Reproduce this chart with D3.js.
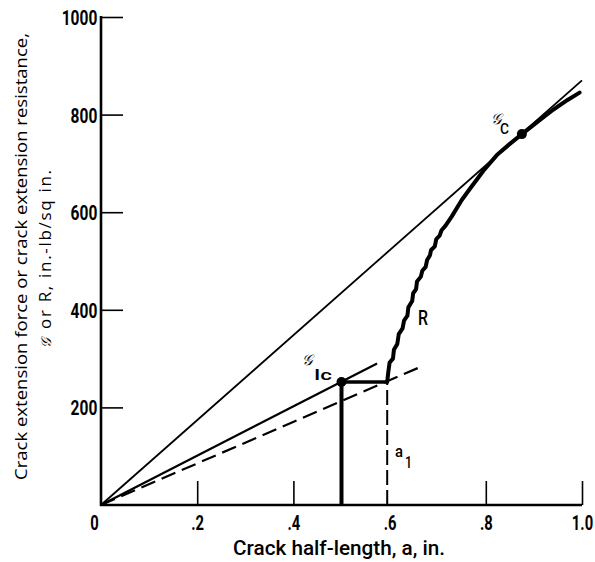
<!DOCTYPE html>
<html>
<head>
<meta charset="utf-8">
<script src="https://cdn.jsdelivr.net/npm/d3@7"></script>
<style>
  body { margin: 0; background: #fff; }
  svg { display: block; }
  .narrow { font-family: Roboto, "Liberation Sans", sans-serif; }
</style>
</head>
<body>
<svg id="chart" width="595" height="562"></svg>
<script>
// ---- data ----
const xTicks = [0, 0.2, 0.4, 0.6, 0.8, 1.0];
const xTickLabels = ["0", ".2", ".4", ".6", ".8", "1.0"];
const yTicks = [200, 400, 600, 800, 1000];
const yTickLabels = ["200", "400", "600", "800", "1000"];

// straight lines through origin: [x, y] end points
const gcLine = [[0, 0], [1.0, 870]];          // thin line through G_c
const gicLine = [[0, 0], [0.574, 290]];       // solid line through G_Ic
const dashedLine = [[0, 0], [0.669, 285]];    // dashed line

// construction lines
const gicPoint = [0.50, 252];
const gcPoint = [0.875, 760];
const a1 = 0.595;

// R curve (crack extension resistance), with its small steps
const rCurve = [
  [0.595, 252], [0.597, 270], [0.600, 292], [0.607, 300], [0.609, 318],
  [0.616, 330], [0.619, 350], [0.627, 362], [0.630, 378], [0.637, 388],
  [0.639, 405], [0.647, 418], [0.649, 434], [0.655, 442], [0.657, 458],
  [0.665, 468], [0.668, 480], [0.675, 488], [0.678, 502], [0.684, 512],
  [0.686, 522], [0.694, 530], [0.697, 545], [0.704, 552], [0.708, 563],
  [0.716, 572], [0.729, 591], [0.750, 625], [0.767, 648], [0.795, 685],
  [0.823, 717], [0.850, 740], [0.875, 760], [0.910, 787], [0.940, 810],
  [0.970, 830], [0.995, 845]
];

// ---- drawing ----
const svg = d3.select("#chart");
const x = d3.scaleLinear().domain([0, 1]).range([101, 582]);
const y = d3.scaleLinear().domain([0, 1000]).range([505, 17]);
const line = d3.line().x(d => x(d[0])).y(d => y(d[1]));

// condensed look: scale text horizontally
const SX = 0.74;

// axes
const yAxis = d3.axisLeft(y).tickValues(yTicks)
  .tickFormat((d, i) => yTickLabels[i]).tickSizeInner(-22).tickSizeOuter(0).tickPadding(5);
const gy = svg.append("g").attr("transform", `translate(${x(0)},0)`).call(yAxis);
gy.select(".domain").remove();
gy.selectAll(".tick line").attr("stroke", "#000").attr("stroke-width", 1.6);
gy.selectAll(".tick text").attr("class", "narrow").attr("font-size", 21)
  .attr("font-weight", "bold").attr("fill", "#000").attr("dy", "0.36em")
  .attr("transform", `scale(${SX},1)`);

const xAxis = d3.axisBottom(x).tickValues(xTicks)
  .tickFormat((d, i) => xTickLabels[i]).tickSizeInner(-24).tickSizeOuter(0);
const gx = svg.append("g").attr("transform", `translate(0,${y(0)})`).call(xAxis);
gx.select(".domain").remove();
gx.selectAll(".tick line").attr("stroke", "#000").attr("stroke-width", 1.6)
  .attr("opacity", d => (d === 0 || d === 0.6) ? 0 : 1);
gx.selectAll(".tick text").attr("class", "narrow").attr("font-size", 20)
  .attr("font-weight", "bold").attr("fill", "#000")
  .attr("y", 25).attr("dy", "0")
  .attr("transform", d => `translate(${d === 0 ? -7 : 0},0) scale(${SX},1)`);

// axis lines
svg.append("line").attr("x1", x(0)).attr("x2", x(0)).attr("y1", y(0) + 1).attr("y2", y(1000) - 1)
  .attr("stroke", "#000").attr("stroke-width", 2.6);
svg.append("line").attr("x1", x(0) - 1).attr("x2", x(1.0)).attr("y1", y(0)).attr("y2", y(0))
  .attr("stroke", "#000").attr("stroke-width", 2.6);

// thin G_c line
svg.append("path").attr("d", line(gcLine)).attr("fill", "none")
  .attr("stroke", "#000").attr("stroke-width", 1.8);
// G_Ic line
svg.append("path").attr("d", line(gicLine)).attr("fill", "none")
  .attr("stroke", "#000").attr("stroke-width", 2.2);
// dashed line
svg.append("path").attr("d", line(dashedLine)).attr("fill", "none")
  .attr("stroke", "#000").attr("stroke-width", 2.2).attr("stroke-dasharray", "15,7");

// vertical thick at G_Ic
svg.append("path").attr("d", line([[gicPoint[0], 0], gicPoint])).attr("fill", "none")
  .attr("stroke", "#000").attr("stroke-width", 4);
// horizontal thick from G_Ic to a1
svg.append("path").attr("d", line([gicPoint, [a1, gicPoint[1]]])).attr("fill", "none")
  .attr("stroke", "#000").attr("stroke-width", 3.4);
// dashed vertical at a1
svg.append("path").attr("d", line([[a1, 0], [a1, gicPoint[1]]])).attr("fill", "none")
  .attr("stroke", "#000").attr("stroke-width", 2).attr("stroke-dasharray", "15,5");

// R curve
svg.append("path").attr("d", line(rCurve)).attr("fill", "none")
  .attr("stroke", "#000").attr("stroke-width", 4).attr("stroke-linejoin", "round").attr("stroke-linecap", "round");

// points
svg.append("circle").attr("cx", x(gicPoint[0])).attr("cy", y(gicPoint[1])).attr("r", 5).attr("fill", "#000");
svg.append("circle").attr("cx", x(gcPoint[0])).attr("cy", y(gcPoint[1])).attr("r", 5).attr("fill", "#000");

// annotations
const scriptFont = '"DejaVu Serif", serif';
function narrowText(px, py, size, str, len) {
  return svg.append("text").attr("class", "narrow").attr("x", px).attr("y", py)
    .attr("font-size", size).attr("font-weight", 500)
    .attr("textLength", len).attr("lengthAdjust", "spacingAndGlyphs").text(str);
}
svg.append("text").attr("x", 491).attr("y", 124)
  .attr("font-family", scriptFont).attr("font-style", "italic").attr("font-size", 15).text("𝒢");
narrowText(500, 134, 15, "C", 9);

svg.append("text").attr("x", 302).attr("y", 365)
  .attr("font-family", scriptFont).attr("font-style", "italic").attr("font-size", 15).text("𝒢");
narrowText(314, 380, 15, "Ic", 18);

narrowText(418, 325, 21, "R", 10);

narrowText(395, 457, 16, "a", 8);
narrowText(405, 468, 16, "1", 7);

// axis titles
narrowText(233, 555, 20, "Crack half-length, a, in.", 212);

const yt = svg.append("g").attr("transform", "rotate(-90)")
  .attr("font-family", '"Open Sans", sans-serif').attr("font-size", 17);
yt.append("text").attr("x", -480).attr("y", 27)
  .attr("textLength", 447).attr("lengthAdjust", "spacingAndGlyphs")
  .text("Crack extension force or crack extension resistance,");
yt.append("text").attr("x", -348).attr("y", 51)
  .attr("font-family", scriptFont).attr("font-style", "italic").attr("font-size", 14).text("𝒢");
yt.append("text").attr("x", -329).attr("y", 51)
  .attr("textLength", 159).attr("lengthAdjust", "spacing")
  .text("or  R,  in.-lb/sq in.");
</script>
</body>
</html>
